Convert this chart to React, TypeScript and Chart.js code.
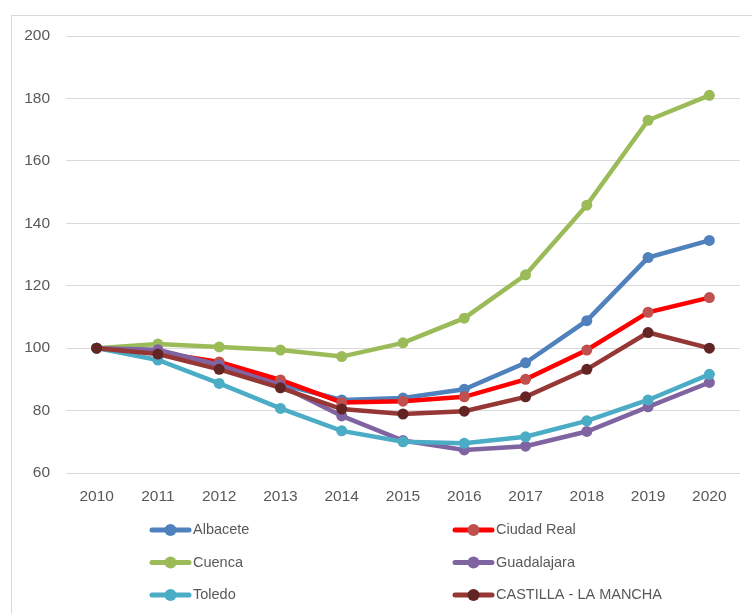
import React, { useEffect, useRef } from "react";
import { Chart, registerables } from "chart.js";

Chart.register(...registerables);

const years = ["2010", "2011", "2012", "2013", "2014", "2015", "2016", "2017", "2018", "2019", "2020"];
const albacete = [100, 99.2, 94.8, 88.5, 83.4, 84, 86.8, 95.3, 108.8, 129, 134.5];
const ciudadReal = [100, 98.6, 95.6, 89.8, 82.6, 83, 84.4, 90, 99.4, 111.5, 116.2];
const cuenca = [100, 101.3, 100.4, 99.4, 97.3, 101.7, 109.6, 123.5, 145.8, 173, 181];
const guadalajara = [100, 99.5, 94.6, 88, 78.3, 70.4, 67.4, 68.6, 73.3, 81.2, 89];
const toledo = [100, 96.2, 88.7, 80.7, 73.5, 70, 69.5, 71.6, 76.7, 83.4, 91.6];
const castillaLaMancha = [100, 98.1, 93.2, 87.3, 80.5, 78.9, 79.8, 84.4, 93.2, 105, 100];
const seriesNames = ["Albacete", "Ciudad Real", "Cuenca", "Guadalajara", "Toledo", "CASTILLA - LA MANCHA"];
const yTicks = [60, 80, 100, 120, 140, 160, 180, 200];

const lineColors = ["#4F81BD", "#FF0000", "#9BBB59", "#8064A2", "#4BACC6", "#953735"];
const pointColors = ["#4F81BD", "#C0504D", "#9BBB59", "#8064A2", "#4BACC6", "#632523"];
const FONT = "'Liberation Sans', Arial, sans-serif";

const legendPlugin = {
  id: "customLegend",
  afterDraw(chart: any) {
    const ctx = chart.ctx;
    const colX = [152, 455];
    const rowY = [530, 562.5, 595];
    chart.data.datasets.forEach((ds: any, i: number) => {
      const x0 = colX[i % 2];
      const y = rowY[Math.floor(i / 2)];
      ctx.save();
      ctx.strokeStyle = ds.borderColor;
      ctx.lineWidth = 5;
      ctx.lineCap = "round";
      ctx.beginPath();
      ctx.moveTo(x0, y);
      ctx.lineTo(x0 + 37, y);
      ctx.stroke();
      ctx.fillStyle = ds.pointBackgroundColor;
      ctx.beginPath();
      ctx.arc(x0 + 18.5, y, 6, 0, Math.PI * 2);
      ctx.fill();
      ctx.fillStyle = "#595959";
      ctx.font = `14.5px ${FONT}`;
      ctx.textBaseline = "middle";
      ctx.textAlign = "left";
      ctx.fillText(ds.label, x0 + 41, y);
      ctx.restore();
    });
  },
};

export default function App() {
  const canvasRef = useRef<HTMLCanvasElement | null>(null);

  useEffect(() => {
    if (!canvasRef.current) return;
    const values = [albacete, ciudadReal, cuenca, guadalajara, toledo, castillaLaMancha];
    const chart = new Chart(canvasRef.current, {
      type: "line",
      data: {
        labels: years,
        datasets: values.map((v, i) => ({
          label: seriesNames[i],
          data: v,
          borderColor: lineColors[i],
          backgroundColor: pointColors[i],
          pointBackgroundColor: pointColors[i],
          pointBorderColor: pointColors[i],
          pointRadius: 5.5,
          pointBorderWidth: 0,
          borderWidth: 4.5,
          tension: 0,
          order: values.length - i,
        })),
      },
      options: {
        animation: false,
        responsive: false,
        maintainAspectRatio: false,
        layout: { padding: { left: 16, right: 12, top: 36, bottom: 0 } },
        plugins: { legend: { display: false }, tooltip: { enabled: false } },
        scales: {
          x: {
            offset: true,
            grid: { display: false, drawTicks: false },
            border: { display: false },
            ticks: { color: "#595959", font: { family: FONT, size: 15.5 }, padding: 14, maxRotation: 0 },
            afterFit: (s: any) => { s.height = 141; },
          },
          y: {
            min: 60,
            max: 200,
            afterBuildTicks: (s: any) => { s.ticks = yTicks.map((v) => ({ value: v })); },
            grid: { color: "#D9D9D9", lineWidth: 1, drawTicks: false },
            border: { display: false },
            ticks: { color: "#595959", font: { family: FONT, size: 15.5 }, padding: 16 },
            afterFit: (s: any) => { s.width = 50; },
          },
        },
      },
      plugins: [legendPlugin],
    });
    return () => chart.destroy();
  }, []);

  return (
    <div style={{ position: "absolute", left: 0, top: 0, width: 752, height: 614, background: "#fff", overflow: "hidden" }}>
      <div style={{ position: "absolute", left: 11, top: 15, width: 760, height: 620, borderLeft: "1px solid #D9D9D9", borderTop: "1px solid #D9D9D9" }} />
      <canvas ref={canvasRef} width={752} height={614} style={{ position: "absolute", left: 0, top: 0 }} />
    </div>
  );
}
